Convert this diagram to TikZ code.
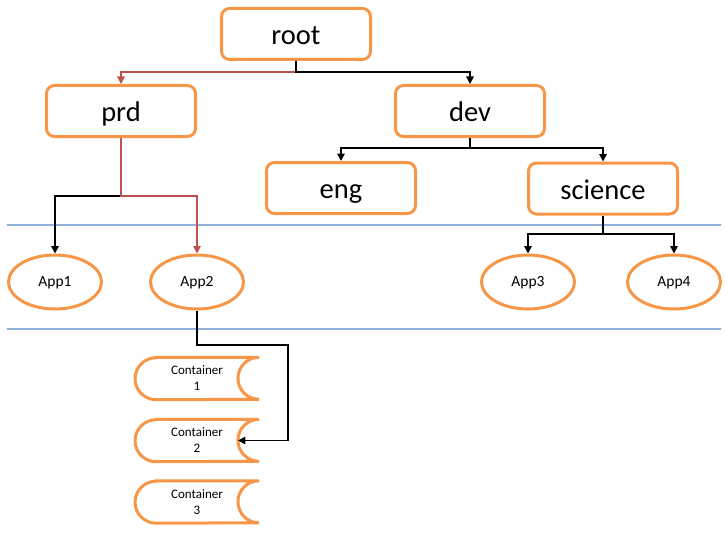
\documentclass[tikz,border=0pt]{standalone}
\usepackage{fontspec}
\setmainfont{Carlito}
\usetikzlibrary{arrows.meta,shapes.geometric}
\definecolor{boxorange}{HTML}{F79646}
\definecolor{sepblue}{HTML}{8EB0DA}
\definecolor{redline}{HTML}{C0504D}
\tikzset{
  dirbox/.style={draw=boxorange,line width=3pt,rounded corners=8pt,minimum width=149pt,minimum height=51pt,inner sep=0pt,text height=26pt,text depth=5pt,font=\fontsize{28.5}{30}\selectfont},
  appnode/.style={ellipse,draw=boxorange,line width=3pt,minimum width=93pt,minimum height=54pt,inner sep=0pt,text height=13pt,text depth=3.6pt,font=\fontsize{15.5}{17}\selectfont},
  contnode/.style={minimum width=123.5pt,minimum height=42pt,inner sep=0pt,align=center,font=\fontsize{13}{16}\selectfont},
  contline/.style={draw=boxorange,line width=3pt},
  conn/.style={line width=1.5pt,-{Triangle[width=7.5pt,length=7.5pt]}},
  connred/.style={conn,draw=redline,-{Triangle[width=7.5pt,length=7.5pt,fill=redline]}},
  sepline/.style={draw=sepblue,line width=1.4pt}
}
\newcommand\containershape[1]{%
  \path[contline] ([xshift=21pt]#1.north west) -- (#1.north east)
    arc[start angle=90,end angle=270,radius=21pt]
    -- ([xshift=21pt]#1.south west)
    arc[start angle=270,end angle=90,radius=21pt] -- cycle;}
\begin{document}
\begin{tikzpicture}[x=1pt,y=-1pt]
\useasboundingbox (0,0) rectangle (726,543);
% separators
\coordinate (s1a) at (7,225); \coordinate (s1b) at (721,225);
\coordinate (s2a) at (7,329); \coordinate (s2b) at (721,329);
\draw[sepline] (s1a) -- (s1b);
\draw[sepline] (s2a) -- (s2b);
% directory boxes
\node[dirbox] (root) at (296,34) {root};
\node[dirbox] (prd) at (121,111) {prd};
\node[dirbox] (dev) at (470,111) {dev};
\node[dirbox] (eng) at (341,188) {eng};
\node[dirbox] (science) at (603,188.5) {science};
% apps
\node[appnode] (app1) at (55,282) {App1};
\node[appnode] (app2) at (197,282) {App2};
\node[appnode] (app3) at (528,282) {App3};
\node[appnode] (app4) at (674,282) {App4};
% containers
\node[contnode] (c1) at (197,378.5) {Container\\1};
\node[contnode] (c2) at (197,440.5) {Container\\2};
\node[contnode] (c3) at (197,502) {Container\\3};
\containershape{c1}
\containershape{c2}
\containershape{c3}
% connectors
\draw[connred] (root.south) -- ++(0,11) -| (prd.north);
\draw[conn] (root.south) -- ++(0,11) -| (dev.north);
\draw[conn] (dev.south) -- ++(0,10) -| (eng.north);
\draw[conn] (dev.south) -- ++(0,10) -| (science.north);
\draw[conn] (prd.south) -- ++(0,58) -| (app1.north);
\draw[connred] (prd.south) -- ++(0,58) -| (app2.north);
\draw[conn] (science.south) -- ++(0,18.5) -| (app3.north);
\draw[conn] (science.south) -- ++(0,18.5) -| (app4.north);
\coordinate (bend) at (288,345);
\coordinate (c2tip) at ([xshift=-21pt]c2.east);
\draw[conn] (app2.south) |- (bend) |- (c2tip);
\end{tikzpicture}
\end{document}
